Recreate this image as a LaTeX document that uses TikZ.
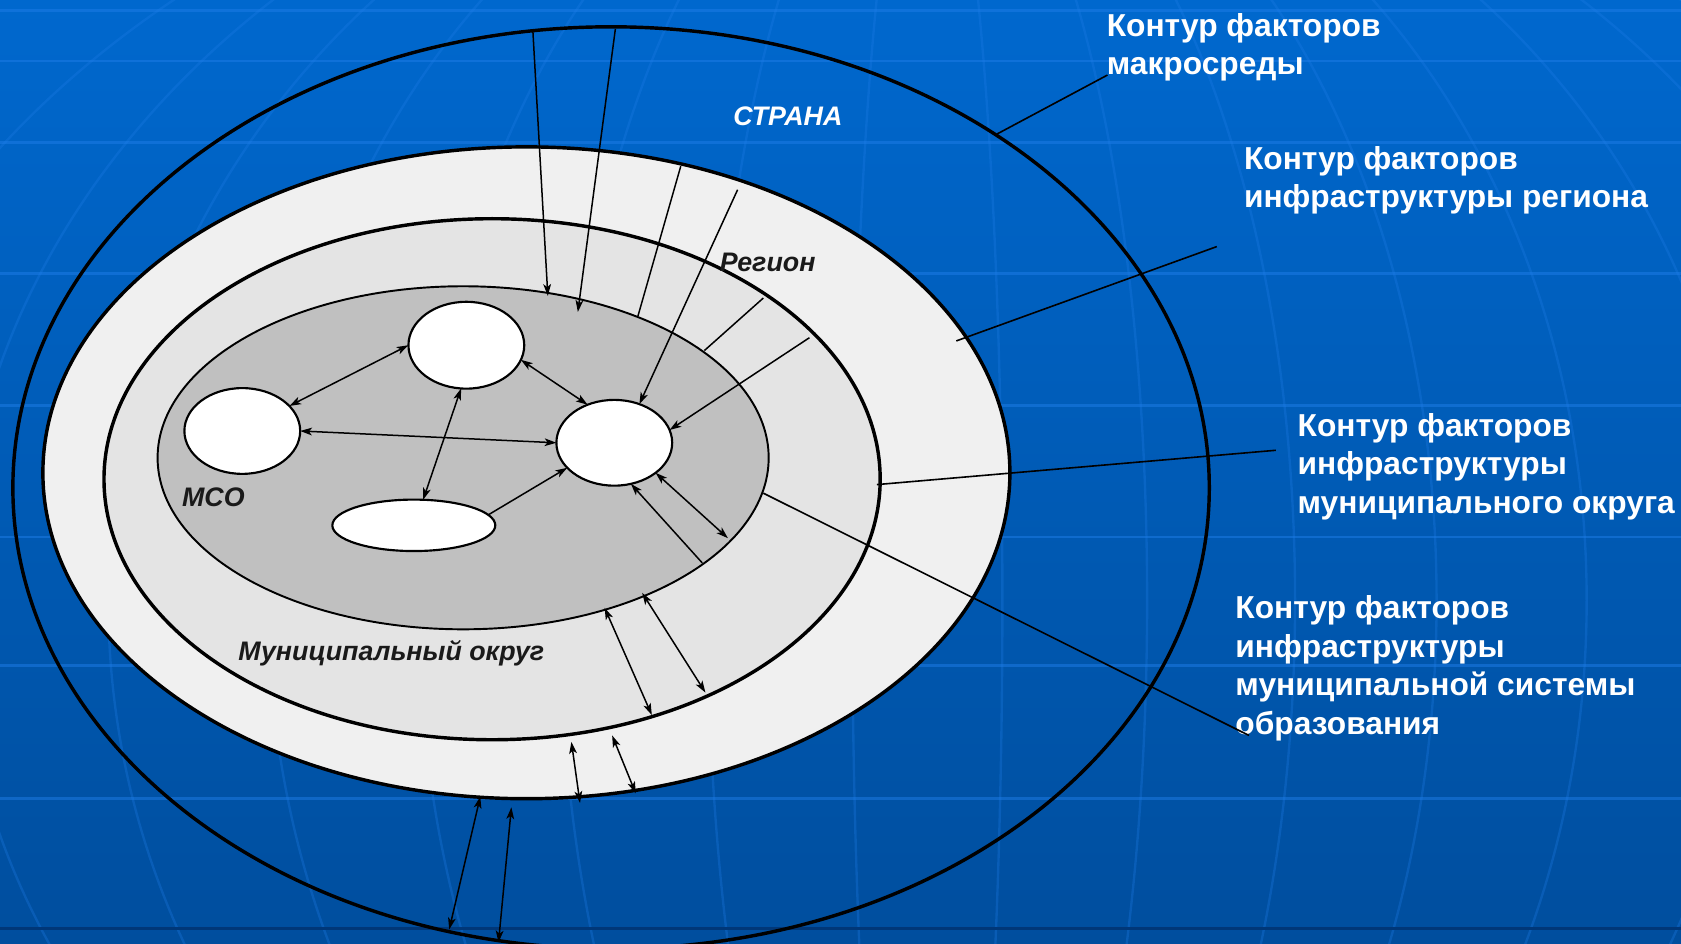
\documentclass[tikz,border=0pt]{standalone}
\usepackage{fontspec}
\setmainfont{Liberation Sans}
\usetikzlibrary{shapes.geometric,arrows.meta}
\definecolor{bgtop}{RGB}{0,104,206}
\definecolor{bgbot}{RGB}{0,78,158}
\definecolor{gridl}{RGB}{30,125,232}
\definecolor{gridd}{RGB}{0,55,120}
\definecolor{ringc}{RGB}{240,240,240}
\definecolor{regc}{RGB}{228,228,228}
\definecolor{msoc}{RGB}{192,192,192}
\definecolor{lbl}{RGB}{26,26,26}
\begin{document}
\begin{tikzpicture}[x=0.5pt,y=-0.5pt,
  zone/.style={ellipse, draw=black, inner sep=0pt, outer sep=0pt},
  unit/.style={ellipse, draw=black, line width=1pt, fill=white, inner sep=0pt, outer sep=0pt},
  tip/.tip={Stealth[length=5.5pt,width=3.6pt,inset=1.4pt]},
  both/.style={line width=0.7pt, tip-tip},
  into/.style={line width=0.7pt, -tip},
  plain/.style={line width=0.7pt},
  leader/.style={line width=0.75pt},
  meridian/.style={draw=gridl, line width=1.1pt, opacity=0.3},
  parallel/.style={draw=gridl, line width=1.2pt, opacity=0.5},
  note/.style={anchor=north west, align=left, inner sep=0pt, text=white,
    font=\fontsize{14.8}{18}\selectfont\bfseries},
  tag/.style={inner sep=0pt, text=lbl, font=\fontsize{12.5}{15}\selectfont\bfseries\itshape}
]
\useasboundingbox (0,0) rectangle (1568,880);
\shade[top color=bgtop, bottom color=bgbot] (0,0) rectangle (1568,880);
\begin{scope}
  \clip (0,0) rectangle (1568,880);
  \foreach \r in {70,205,343,475,615,764,903,1040}
    \draw[meridian] (865,560) ellipse [x radius=\r, y radius=760];
  \foreach \yy in {10,57,133,255,378,501,621,745}
    \draw[parallel] (0,\yy) -- (1568,\yy);
  \draw[draw=gridd, line width=1.2pt] (0,866) -- (1568,866);
\end{scope}

% zones
\node[zone, line width=1.6pt, minimum width=558pt, minimum height=430pt] (country) at (570,455) {};
\node[zone, line width=1.6pt, fill=ringc, minimum width=451pt, minimum height=304pt] (ring) at (491,441) {};
\node[zone, line width=1.6pt, fill=regc, minimum width=362pt, minimum height=243pt] (region) at (459,447) {};
\node[zone, line width=0.9pt, fill=msoc, minimum width=285pt, minimum height=160pt] (mso) at (432,427) {};

% units
\node[unit, minimum width=54pt, minimum height=40.5pt] (A) at (435,322) {};
\node[unit, minimum width=54pt, minimum height=40pt] (B) at (226,402) {};
\node[unit, minimum width=54pt, minimum height=40pt] (C) at (573,413) {};
\node[unit, minimum width=76pt, minimum height=24pt] (D) at (386,490) {};

% free ends
\coordinate (t1s) at (497,28);  \coordinate (t1e) at (511,276);
\coordinate (t2s) at (574,27);  \coordinate (t2e) at (539,291);
\coordinate (p1s) at (635,155); \coordinate (p1e) at (595,295);
\coordinate (p2s) at (712,278); \coordinate (p2e) at (657,327);
\coordinate (r1) at (688,177);
\coordinate (r2) at (755,315);
\coordinate (r3) at (679,502);
\coordinate (r4) at (655,525);
\coordinate (b1s) at (564,567); \coordinate (b1e) at (608,667);
\coordinate (b2s) at (599,553); \coordinate (b2e) at (658,646);
\coordinate (b3s) at (533,692); \coordinate (b3e) at (541,749);
\coordinate (b4s) at (571,686); \coordinate (b4e) at (593,740);
\coordinate (b5s) at (448,743); \coordinate (b5e) at (419,867);
\coordinate (b6s) at (477,753); \coordinate (b6e) at (465,879);

% links between units
\draw[both] (A.180) -- (B.28);
\draw[both] (B.0) -- (C.180);
\draw[both] (A.-97) -- (D.70);
\draw[both] (A.-15) -- (C.125.5);
\draw[into] (D.8) -- (C.208.5);

% links from contours
\draw[into] (t1s) -- (t1e);
\draw[into] (t2s) -- (t2e);
\draw[plain] (p1s) -- (p1e);
\draw[plain] (p2s) -- (p2e);
\draw[into] (r1) -- (C.57);
\draw[into] (r2) -- (C.13);
\draw[both] (C.-36) -- (r3);
\draw[into] (r4) -- (C.-68);
\draw[both] (b1s) -- (b1e);
\draw[both] (b2s) -- (b2e);
\draw[both] (b3s) -- (b3e);
\draw[both] (b4s) -- (b4e);
\draw[both] (b5s) -- (b5e);
\draw[both] (b6s) -- (b6e);

% labels inside
\node[tag, text=white] (strana) at (735,108) {СТРАНА};
\node[tag] (reg) at (716,245) {Регион};
\node[tag] (msolbl) at (199,464) {МСО};
\node[tag] (okr) at (365,609) {Муниципальный округ};

% notes
\node[note] (n1) at (1032,12) {Контур факторов\\макросреды};
\node[note] (n2) at (1160,136) {Контур факторов\\инфраструктуры региона};
\node[note] (n3) at (1210,385) {Контур факторов\\инфраструктуры\\муниципального округа};
\node[note] (n4) at (1152,555) {Контур факторов\\инфраструктуры\\муниципальной системы\\образования};

\coordinate (l1s) at (1033,70);  \coordinate (l1e) at (930,125);
\coordinate (l2s) at (1135,230); \coordinate (l2e) at (892,318);
\coordinate (l3s) at (1190,420); \coordinate (l3e) at (818,452);
\coordinate (l4s) at (1165,686); \coordinate (l4e) at (712,460);
\draw[leader] (l1s) -- (l1e);
\draw[leader] (l2s) -- (l2e);
\draw[leader] (l3s) -- (l3e);
\draw[leader] (l4s) -- (l4e);
\end{tikzpicture}
\end{document}
